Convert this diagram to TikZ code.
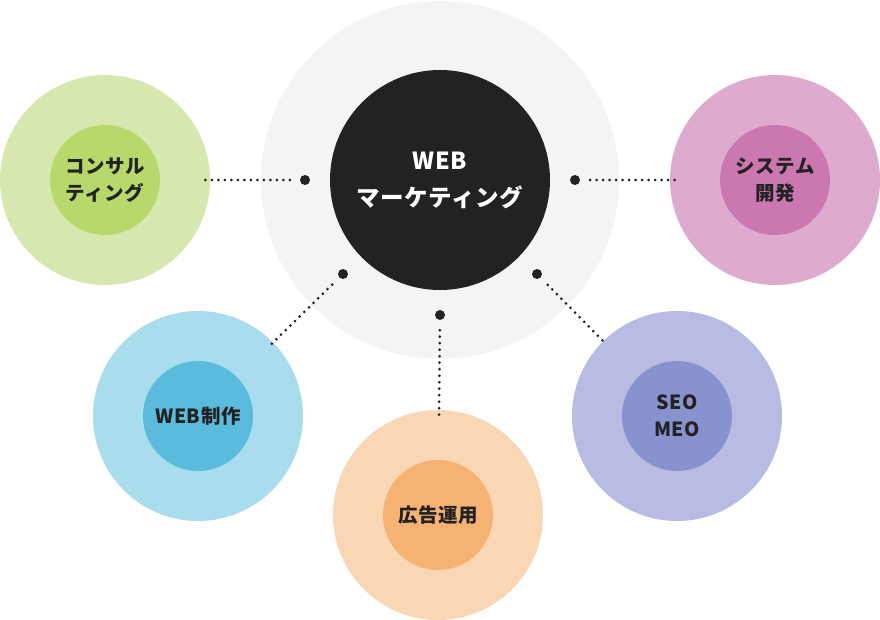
\documentclass[tikz,border=0pt]{standalone}
\usepackage{fontspec}
\newfontfamily\jpfont{Noto Sans CJK JP}[LetterSpace=3]
\definecolor{centerbg}{HTML}{F4F4F4}
\definecolor{centerfg}{HTML}{222222}
\definecolor{consout}{HTML}{D6E8B0}
\definecolor{consin}{HTML}{B8D86B}
\definecolor{sysout}{HTML}{DEABCE}
\definecolor{sysin}{HTML}{CB77B0}
\definecolor{webout}{HTML}{A9DCEC}
\definecolor{webin}{HTML}{5BBBDC}
\definecolor{adout}{HTML}{F9D7B4}
\definecolor{adin}{HTML}{F5B273}
\definecolor{seoout}{HTML}{B8BCE2}
\definecolor{seoin}{HTML}{8892CE}

\begin{document}
\begin{tikzpicture}[
	x=1pt, y=-1pt,
	outer/.style={circle,minimum size=210pt,inner sep=0pt},
	inner/.style={circle,minimum size=110pt,inner sep=0pt,align=center,
		text=centerfg,font=\jpfont\bfseries\fontsize{19.5pt}{27pt}\selectfont},
	hubdot/.style={circle,fill=centerfg,minimum size=10pt,inner sep=0pt},
	dotline/.style={draw=centerfg,line width=3pt,line cap=round,
		dash pattern=on 0pt off 6.5pt}
	]
	\useasboundingbox (0,0) rectangle (880,620);
	% hub
	\node[circle,fill=centerbg,minimum size=358pt,inner sep=0pt] (hub) at (440,180) {};
	\node[circle,fill=centerfg,minimum size=220pt,inner sep=0pt,align=center,
		text=white,font=\jpfont\bfseries\fontsize{23.5pt}{37pt}\selectfont]
		(marketing) at (440,180) {WEB\\マーケティング};
	% services
	\node[outer,fill=consout] (consulting) at (105,180) {};
	\node[inner,fill=consin] (consultingin) at (105,180) {コンサル\\ティング};
	\node[outer,fill=sysout] (system) at (775,180) {};
	\node[inner,fill=sysin] (systemin) at (775,180) {システム\\開発};
	\node[outer,fill=webout] (webdev) at (198,416) {};
	\node[inner,fill=webin] (webdevin) at (198,416) {WEB制作};
	\node[outer,fill=adout] (ads) at (438,515) {};
	\node[inner,fill=adin] (adsin) at (438,515) {広告運用};
	\node[outer,fill=seoout] (seo) at (677,416) {};
	\node[inner,fill=seoin] (seoin) at (677,416) {SEO\\MEO};
	% dots on the hub
	\node[hubdot] (dotleft) at (305,180) {};
	\node[hubdot] (dotright) at (575,180) {};
	\node[hubdot] (dotwest) at (343,274) {};
	\node[hubdot] (dotsouth) at (440,315) {};
	\node[hubdot] (doteast) at (537,274) {};
	\path [dotline,shorten <=10pt]
	(dotleft) edge[shorten >=-10pt] (consulting)
	(dotright) edge[shorten >=-10pt] (system)
	(dotwest) edge[shorten >=-5pt] (webdev)
	(dotsouth) edge[shorten >=-10pt] (ads)
	(doteast) edge[shorten >=-5pt] (seo);
\end{tikzpicture}
\end{document}
